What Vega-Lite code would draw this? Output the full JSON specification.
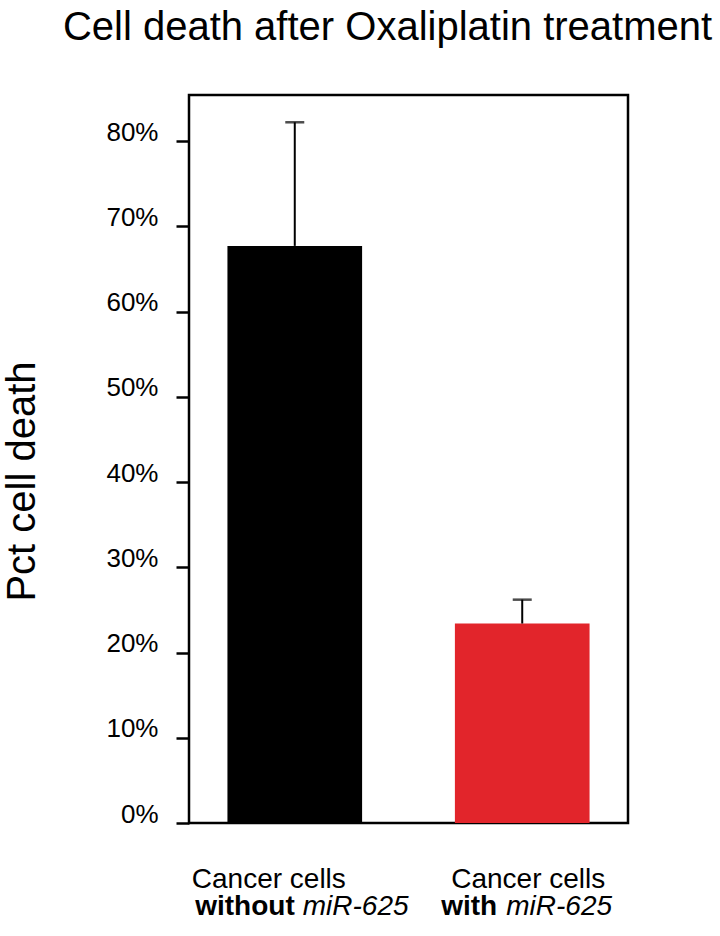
{
  "$schema": "https://vega.github.io/schema/vega-lite/v6.json",
  "width": 439, "height": 728,
  "autosize": {"type": "none"},
  "padding": {"left": 189, "top": 95, "right": 92, "bottom": 113},
  "background": "white",
  "config": {
    "font": "Liberation Sans",
    "view": {"stroke": "black", "strokeWidth": 2.5}
  },
  "title": {
    "text": "Cell death after Oxaliplatin treatment",
    "font": "Liberation Sans", "fontSize": 40, "fontWeight": "normal", "color": "black",
    "anchor": "middle", "dx": -21, "baseline": "alphabetic", "offset": 15
  },
  "data": {
    "values": [
      {"condition": "without miR-625", "pct": 0.677, "upper": 0.822, "line1": "Cancer cells", "strong": "without", "ital": "miR-625"},
      {"condition": "with miR-625", "pct": 0.234, "upper": 0.262, "line1": "Cancer cells", "strong": "with", "ital": "miR-625"}
    ]
  },
  "encoding": {
    "x": {
      "field": "condition", "type": "nominal", "axis": null,
      "scale": {"domain": ["without miR-625", "with miR-625"], "paddingInner": 0.408, "paddingOuter": 0.169}
    }
  },
  "layer": [
    {
      "mark": {"type": "bar"},
      "encoding": {
        "y": {
          "field": "pct", "type": "quantitative", "title": "Pct cell death",
          "scale": {"domain": [0, 0.854], "nice": false, "zero": true},
          "axis": {
            "values": [0, 0.1, 0.2, 0.3, 0.4, 0.5, 0.6, 0.7, 0.8],
            "format": ".0%", "grid": false, "domain": false,
            "tickSize": 13, "tickWidth": 2.5, "tickColor": "black",
            "labelFontSize": 26, "labelColor": "black", "labelPadding": 18,
            "labelBaseline": "middle", "labelOffset": -9,
            "titleFontSize": 40, "titleFontWeight": "normal", "titleColor": "black",
            "titleAngle": -90, "titleAlign": "center", "titleBaseline": "alphabetic",
            "titleX": -155, "titleY": 386
          }
        },
        "color": {
          "field": "condition", "type": "nominal", "legend": null,
          "scale": {"domain": ["without miR-625", "with miR-625"], "range": ["#000000", "#E2252B"]}
        }
      }
    },
    {
      "mark": {"type": "rule", "color": "black", "strokeWidth": 2},
      "encoding": {
        "y": {"field": "pct", "type": "quantitative"},
        "y2": {"field": "upper"}
      }
    },
    {
      "mark": {"type": "tick", "color": "black", "thickness": 2.5, "size": 19},
      "encoding": {
        "y": {"field": "upper", "type": "quantitative"}
      }
    },
    {
      "transform": [{"filter": "datum.condition == 'without miR-625'"}],
      "mark": {"type": "text", "align": "left", "baseline": "alphabetic", "fontSize": 28, "dx": -103, "dy": 65, "color": "black"},
      "encoding": {"y": {"datum": 0, "type": "quantitative"}, "text": {"field": "line1"}}
    },
    {
      "transform": [{"filter": "datum.condition == 'without miR-625'"}],
      "mark": {"type": "text", "align": "right", "baseline": "alphabetic", "fontSize": 28, "fontWeight": "bold", "dx": 0, "dy": 92, "color": "black"},
      "encoding": {"y": {"datum": 0, "type": "quantitative"}, "text": {"field": "strong"}}
    },
    {
      "transform": [{"filter": "datum.condition == 'without miR-625'"}],
      "mark": {"type": "text", "align": "left", "baseline": "alphabetic", "fontSize": 28, "fontStyle": "italic", "dx": 8, "dy": 92, "color": "black"},
      "encoding": {"y": {"datum": 0, "type": "quantitative"}, "text": {"field": "ital"}}
    },
    {
      "transform": [{"filter": "datum.condition == 'with miR-625'"}],
      "mark": {"type": "text", "align": "center", "baseline": "alphabetic", "fontSize": 28, "dx": 6, "dy": 65, "color": "black"},
      "encoding": {"y": {"datum": 0, "type": "quantitative"}, "text": {"field": "line1"}}
    },
    {
      "transform": [{"filter": "datum.condition == 'with miR-625'"}],
      "mark": {"type": "text", "align": "right", "baseline": "alphabetic", "fontSize": 28, "fontWeight": "bold", "dx": -25, "dy": 92, "color": "black"},
      "encoding": {"y": {"datum": 0, "type": "quantitative"}, "text": {"field": "strong"}}
    },
    {
      "transform": [{"filter": "datum.condition == 'with miR-625'"}],
      "mark": {"type": "text", "align": "left", "baseline": "alphabetic", "fontSize": 28, "fontStyle": "italic", "dx": -16, "dy": 92, "color": "black"},
      "encoding": {"y": {"datum": 0, "type": "quantitative"}, "text": {"field": "ital"}}
    }
  ]
}
